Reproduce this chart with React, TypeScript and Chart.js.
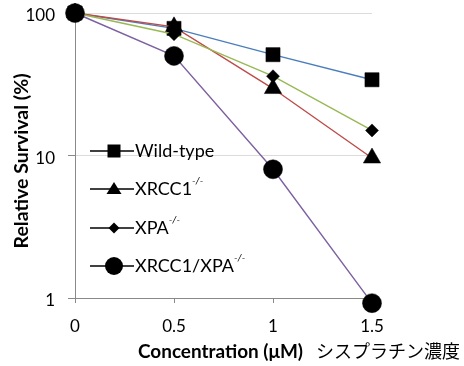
import React, { useEffect, useRef } from "react";
import { Chart, registerables } from "chart.js";

Chart.register(...registerables);

const concentrations = [0, 0.5, 1, 1.5];
const xTickLabels = ["0", "0.5", "1", "1.5"];
const yTickValues = [1, 10, 100];
const yTickLabels = ["1", "10", "100"];
const seriesNames = ["Wild-type", "XRCC1", "XPA", "XRCC1/XPA"];
const seriesSup = ["", "-/-", "-/-", "-/-"];
const wildType = [100, 78, 51, 34];
const xrcc1 = [100, 80, 29.5, 9.6];
const xpa = [100, 71, 36, 15];
const xrcc1Xpa = [100, 50, 8, 0.92];
const yTitle = "Relative Survival (%)";
const xTitleEn = "Concentration (\u03bcM)";
const xTitleJa = "シスプラチン濃度";

const lineColors = ["#4A7EBB", "#BE4B48", "#98B954", "#7D60A0"];
const pointStyles = ["rect", "triangle", "rectRot", "circle"];
const pointRadii = [10, 10, 6.5, 9.5];

const FONT = "Lato, 'Open Sans', sans-serif";

function fitFont(ctx: CanvasRenderingContext2D, text: string, weight: string, target: number) {
  ctx.font = `${weight} 20px ${FONT}`;
  const w = ctx.measureText(text).width;
  const size = (20 * target) / w;
  ctx.font = `${weight} ${size.toFixed(2)}px ${FONT}`;
  return size;
}

function drawMarker(ctx: CanvasRenderingContext2D, style: string, x: number, y: number) {
  ctx.beginPath();
  if (style === "rect") {
    ctx.rect(x - 6.5, y - 6.5, 13, 13);
  } else if (style === "triangle") {
    ctx.moveTo(x, y - 7);
    ctx.lineTo(x + 7.5, y + 5);
    ctx.lineTo(x - 7.5, y + 5);
    ctx.closePath();
  } else if (style === "rectRot") {
    ctx.moveTo(x, y - 5.5);
    ctx.lineTo(x + 5.5, y);
    ctx.lineTo(x, y + 5.5);
    ctx.lineTo(x - 5.5, y);
    ctx.closePath();
  } else {
    ctx.arc(x, y, 9, 0, Math.PI * 2);
  }
  ctx.fillStyle = "#000";
  ctx.fill();
}

const overlayPlugin = {
  id: "overlay",
  afterDraw(chart: any) {
    const ctx: CanvasRenderingContext2D = chart.ctx;
    const xs = chart.scales.x;
    const ys = chart.scales.y;
    ctx.save();
    ctx.fillStyle = "#000";
    // tick labels
    ctx.font = `17px ${FONT}`;
    ctx.textBaseline = "middle";
    ctx.textAlign = "right";
    yTickValues.forEach((v, i) => {
      ctx.fillText(yTickLabels[i], 55, ys.getPixelForValue(v) + 3);
    });
    ctx.textAlign = "center";
    concentrations.forEach((v, i) => {
      ctx.fillText(xTickLabels[i], xs.getPixelForValue(v), 327);
    });
    // legend
    const legendYs = [151, 189, 228, 266];
    seriesNames.forEach((name, i) => {
      const y = legendYs[i];
      ctx.strokeStyle = "#000";
      ctx.lineWidth = 1.5;
      ctx.beginPath();
      ctx.moveTo(90, y);
      ctx.lineTo(134, y);
      ctx.stroke();
      drawMarker(ctx, pointStyles[i], 114, y);
      ctx.fillStyle = "#000";
      ctx.font = `18px ${FONT}`;
      ctx.textAlign = "left";
      ctx.textBaseline = "middle";
      ctx.fillText(name, 135, y);
      if (seriesSup[i]) {
        const w = ctx.measureText(name).width;
        ctx.font = `italic 10px ${FONT}`;
        ctx.fillText(seriesSup[i], 135 + w, y - 8);
      }
    });
    // y title
    ctx.save();
    ctx.translate(22, 161);
    ctx.rotate(-Math.PI / 2);
    fitFont(ctx, yTitle, "bold", 175);
    ctx.textAlign = "center";
    ctx.textBaseline = "middle";
    ctx.fillStyle = "#000";
    ctx.fillText(yTitle, 0, 0);
    ctx.restore();
    // x title
    fitFont(ctx, xTitleEn, "bold", 165);
    ctx.textAlign = "left";
    ctx.textBaseline = "middle";
    ctx.fillStyle = "#000";
    ctx.fillText(xTitleEn, 138, 352);
    ctx.font = `18px 'Noto Sans CJK JP', sans-serif`;
    ctx.fillText(xTitleJa, 316, 351);
    ctx.restore();
  },
};

const seriesData = [wildType, xrcc1, xpa, xrcc1Xpa];

export default function App() {
  const ref = useRef<HTMLCanvasElement | null>(null);
  useEffect(() => {
    if (!ref.current) return;
    const chart = new Chart(ref.current, {
      type: "line",
      data: {
        datasets: seriesData.map((vals, i) => ({
          label: seriesNames[i],
          data: concentrations.map((c, j) => ({ x: c, y: vals[j] })),
          borderColor: lineColors[i],
          borderWidth: 1.4,
          pointStyle: pointStyles[i] as any,
          pointRadius: pointRadii[i],
          pointBackgroundColor: "#000",
          pointBorderColor: "#000",
          pointBorderWidth: 0.5,
          tension: 0,
          clip: false as any,
          order: 4 - i,
        })),
      },
      options: {
        responsive: false,
        animation: false,
        events: [],
        layout: { padding: { top: 13, right: 92, bottom: 0, left: 0 } },
        plugins: { legend: { display: false }, tooltip: { enabled: false } },
        scales: {
          x: {
            type: "linear",
            min: 0,
            max: 1.5,
            afterBuildTicks: (scale: any) => {
              scale.ticks = concentrations.map((v) => ({ value: v }));
            },
            afterFit: (scale: any) => {
              scale.height = 68;
            },
            ticks: { display: false },
            grid: {
              drawOnChartArea: false,
              tickLength: 5,
              tickColor: "#898989",
            },
            border: { color: "#898989", width: 1 },
          },
          y: {
            type: "logarithmic",
            min: 1,
            max: 100,
            afterBuildTicks: (scale: any) => {
              scale.ticks = yTickValues.map((v) => ({ value: v }));
            },
            afterFit: (scale: any) => {
              scale.width = 75;
            },
            ticks: { display: false },
            grid: {
              color: (c: any) => (c.tick && c.tick.value === 1 ? "rgba(0,0,0,0)" : "#DCDCDC"),
              tickLength: 7,
              tickColor: "#898989",
            },
            border: { color: "#898989", width: 1 },
          },
        },
      },
      plugins: [overlayPlugin],
    });
    return () => chart.destroy();
  }, []);
  return (
    <div>
      <canvas
        ref={ref}
        width={464}
        height={366}
        style={{ position: "absolute", left: 0, top: 0, display: "block", background: "#fff" }}
      />
    </div>
  );
}
